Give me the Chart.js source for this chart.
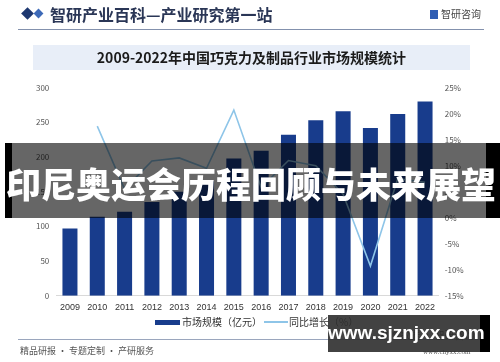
<!DOCTYPE html>
<html><head><meta charset="utf-8">
<script src="https://cdn.jsdelivr.net/npm/chart.js@4"></script>
<style>
html,body{margin:0;padding:0;background:#fff;}
body{width:500px;height:362px;position:relative;overflow:hidden;font-family:"Noto Sans CJK SC","Noto Sans",sans-serif;}
#c{position:absolute;left:0;top:0;}
.abs{position:absolute;white-space:nowrap;}
</style></head><body>
<canvas id="c" width="500" height="362"></canvas>

<div class="abs" style="left:23px;top:9px;width:9px;height:9px;background:#1d3770;transform:rotate(45deg);"></div>
<div class="abs" style="left:35px;top:10px;width:7px;height:7px;background:#3d6ab8;transform:rotate(45deg);"></div>
<div class="abs" style="left:50px;top:3px;font-size:16px;font-weight:bold;color:#2a3656;line-height:22px;font-family:'Noto Sans CJK SC';">智研产业百科—产业研究第一站</div>
<div class="abs" style="left:430px;top:10px;width:8px;height:9px;background:#2f5db3;"></div>
<div class="abs" style="left:441px;top:7px;font-size:10px;color:#444;line-height:14px;">智研咨询</div>
<div class="abs" style="left:18px;top:29px;width:466px;height:1px;background:#8391ad;"></div>

<div class="abs" style="left:33px;top:45px;width:437px;height:25px;background:#e8eef8;"></div>
<div class="abs" style="left:33px;top:45px;width:437px;height:25px;line-height:25px;text-align:center;font-size:14px;font-weight:bold;color:#1b1b1b;">2009-2022年中国巧克力及制品行业市场规模统计</div>

<div class="abs" style="left:155px;top:320px;width:25px;height:5px;background:#183c8c;"></div>
<div class="abs" style="left:182px;top:315px;font-size:10px;color:#333;line-height:14px;">市场规模（亿元）</div>
<div class="abs" style="left:264px;top:321px;width:24px;height:2px;background:#8ec5e8;"></div>
<div class="abs" style="left:289px;top:315px;font-size:10px;color:#333;line-height:14px;">同比增长（%）</div>

<div class="abs" style="left:18px;top:339px;width:472px;height:1px;background:#9aa6bd;"></div>
<div class="abs" style="left:20px;top:345px;font-size:9px;color:#555;line-height:12px;">精品研报 · 专题定制 · 产研服务</div>
<div class="abs" style="left:380px;top:329px;font-size:10px;color:#444;line-height:12px;">精准数据 · 智研咨询</div>
<div class="abs" style="left:423px;top:347px;font-size:7px;color:#555;line-height:10px;font-family:'Liberation Serif';">www.chyxx.com</div>

<!-- overlay banner -->
<div class="abs" style="left:5px;top:143px;width:495px;height:75px;background:rgba(0,0,0,0.6);"></div>
<div class="abs" style="left:5px;top:143px;width:7px;height:75px;background:#000;"></div>
<div class="abs" style="left:486px;top:143px;width:14px;height:75px;background:#000;"></div>
<div class="abs" style="left:0px;top:165px;width:502px;text-align:center;font-size:35px;line-height:35px;font-weight:900;color:#fff;">印尼奥运会历程回顾与未来展望</div>

<!-- bottom watermark -->
<div class="abs" style="left:328px;top:315px;width:152px;height:37px;background:rgba(45,45,45,0.9);"></div>
<div class="abs" style="left:480px;top:315px;width:10px;height:37px;background:#000;"></div>
<div class="abs" style="left:328px;top:315px;width:152px;height:37px;line-height:36px;text-align:center;font-size:19px;font-weight:bold;color:#fff;font-family:'Liberation Sans';">www.sjznjxx.com</div>

<script>
const years = ['2009','2010','2011','2012','2013','2014','2015','2016','2017','2018','2019','2020','2021','2022'];
const marketSize = [97,114,121,135,150,165,198,209,232,253,266,242,262,280];
const growthRate = [null,17.6,5.5,10.9,11.5,9.5,20.7,5.8,11.0,10.0,4.5,-9.3,7.5,6.8];
const leftTicks = [0,50,100,150,200,250,300];
const rightTicks = [-15,-10,-5,0,5,10,15,20,25];

const tickFont = {family:"'Noto Sans CJK SC', 'Liberation Sans', sans-serif", size:8};

new Chart(document.getElementById('c'), {
  data: {
    labels: years,
    datasets: [
      {type:'line', label:'同比增长（%）', data:growthRate, yAxisID:'y1', order:0,
       borderColor:'#8ec5e8', backgroundColor:'#8ec5e8', borderWidth:1.6, pointRadius:0, tension:0, spanGaps:false},
      {type:'bar', label:'市场规模（亿元）', data:marketSize, yAxisID:'y', order:1,
       backgroundColor:'#183c8c', categoryPercentage:1, barPercentage:0.55}
    ]
  },
  options: {
    responsive:false, animation:false,
    layout:{padding:{left:16.3, right:21.3, top:87.7, bottom:46.3}},
    plugins:{legend:{display:false}, tooltip:{enabled:false}},
    scales:{
      x:{grid:{display:false, drawTicks:false}, border:{display:true,color:'#d9d9d9'},
         ticks:{color:'#333', font:{family:"'Liberation Sans', sans-serif", size:9}, padding:6, maxRotation:0, autoSkip:false},
         afterFit:(s)=>{s.height=20;}},
      y:{position:'left', min:0, max:300, grid:{display:false, drawTicks:false}, border:{display:false},
         afterBuildTicks:(s)=>{s.ticks=leftTicks.map(v=>({value:v}));},
         ticks:{color:'#555', font:tickFont, padding:7},
         afterFit:(s)=>{s.width=40;}},
      y1:{position:'right', min:-15, max:25, grid:{display:false, drawTicks:false}, border:{display:false},
         afterBuildTicks:(s)=>{s.ticks=rightTicks.map(v=>({value:v}));},
         ticks:{color:'#555', font:tickFont, padding:6, callback:(v)=>v+'%'},
         afterFit:(s)=>{s.width=40;}}
    }
  }
});
</script>
</body></html>
